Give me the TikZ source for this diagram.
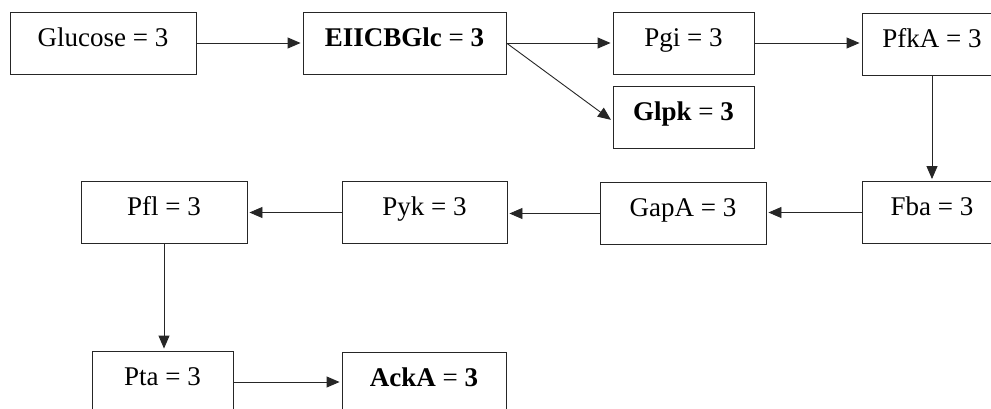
\documentclass[tikz,border=0pt]{standalone}
\usepackage{fontspec}
\setmainfont{Liberation Serif}
\usetikzlibrary{arrows.meta}
\begin{document}
\begin{tikzpicture}[x=1pt,y=-1pt,
  box/.style={draw=black!85, line width=0.9pt, inner sep=0pt, text height=34pt, text depth=28pt,
    font=\fontsize{27}{32}\selectfont, anchor=center},
  conn/.style={draw=black!85, line width=0.9pt, -{Triangle[length=13pt,width=11pt]}, shorten >=2pt}]
\clip (0,0) rectangle (991,408);
\fill[white] (0,0) rectangle (991,408);
\node[box, minimum width=186pt] (glucose) at (103,43) {Glucose = 3};
\node[box, minimum width=203pt] (eiicb) at (404.5,43) {\textbf{EIICBGlc} = \textbf{3}};
\node[box, minimum width=141pt] (pgi) at (683.5,43) {Pgi = 3};
\node[box, minimum width=141pt] (glpk) at (683.5,117) {\textbf{Glpk} = \textbf{3}};
\node[box, minimum width=140pt] (pfka) at (932,44) {PfkA = 3};
\node[box, minimum width=140pt] (fba) at (932,212.5) {Fba = 3};
\node[box, minimum width=166pt] (gapa) at (683,213.5) {GapA = 3};
\node[box, minimum width=165pt] (pyk) at (424.5,212.5) {Pyk = 3};
\node[box, minimum width=166pt] (pfl) at (164,212.5) {Pfl = 3};
\node[box, minimum width=141pt] (pta) at (162.5,382) {Pta = 3};
\node[box, minimum width=164pt] (acka) at (424,383) {\textbf{AckA} = \textbf{3}};
\draw[conn] (glucose.east) -- (glucose.east -| eiicb.west);
\draw[conn] (eiicb.east) -- (eiicb.east -| pgi.west);
\draw[conn] (eiicb.east) -- ([yshift=-4pt]glpk.west);
\draw[conn] (pgi.east) -- (pgi.east -| pfka.west);
\draw[conn] (pfka.south) -- (pfka.south |- fba.north);
\draw[conn] (fba.west) -- (fba.west -| gapa.east);
\draw[conn] (gapa.west) -- (gapa.west -| pyk.east);
\draw[conn] (pyk.west) -- (pyk.west -| pfl.east);
\draw[conn] (pfl.south) -- (pfl.south |- pta.north);
\draw[conn] (pta.east) -- (pta.east -| acka.west);
\end{tikzpicture}
\end{document}
